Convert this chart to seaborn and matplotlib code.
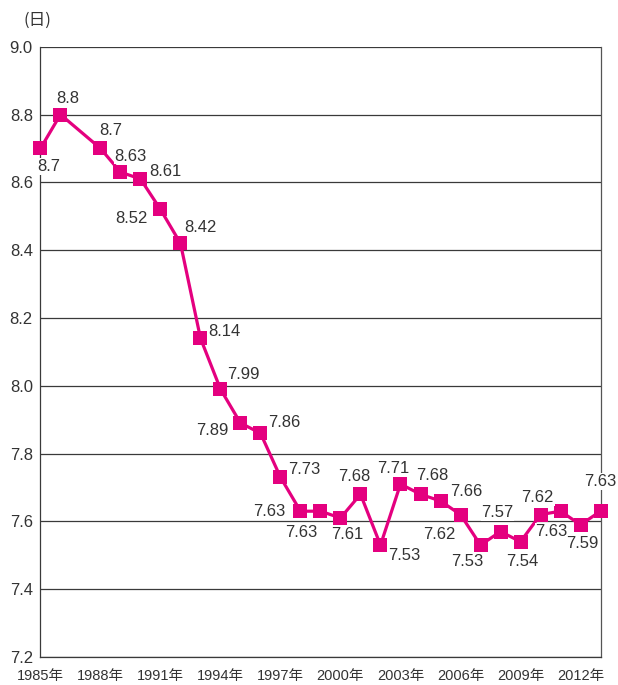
import matplotlib
matplotlib.use("Agg")
import matplotlib.pyplot as plt
import seaborn as sns
import pandas as pd

# Average length of hospital stay by year (1987 not surveyed)
years = [1985, 1986, 1988, 1989, 1990, 1991, 1992, 1993, 1994, 1995,
         1996, 1997, 1998, 1999, 2000, 2001, 2002, 2003, 2004, 2005,
         2006, 2007, 2008, 2009, 2010, 2011, 2012, 2013]
values = [8.70, 8.80, 8.70, 8.63, 8.61, 8.52, 8.42, 8.14, 7.99, 7.89,
          7.86, 7.73, 7.63, 7.63, 7.61, 7.68, 7.53, 7.71, 7.68, 7.66,
          7.62, 7.53, 7.57, 7.54, 7.62, 7.63, 7.59, 7.63]
tick_years = [1985, 1988, 1991, 1994, 1997, 2000, 2003, 2006, 2009, 2012]
tick_labels = [f"{y}年" for y in tick_years]
y_ticks = [7.2, 7.4, 7.6, 7.8, 8.0, 8.2, 8.4, 8.6, 8.8, 9.0]
unit_label = "(日)"

# Placement of each value label relative to its point (pixels, right / down)
label_offsets = [(8, 18), (7, -16.5), (10, -18), (10, -16), (25, -7.5),
                 (-29, 9.5), (19.5, -15.5), (23.5, -7), (22.5, -15),
                 (-28.5, 7), (23.5, -10.5), (23.5, -8), (-31.5, 0),
                 (-19.5, 21.5), (6.5, 17), (-6.5, -17.5), (23.5, 10),
                 (-7, -15.5), (12, -19), (26, -9.5), (-21.5, 19.5),
                 (-13, 16.5), (-3, -19), (2, 20), (-3, -17), (-9, 20.5),
                 (2, 19), (0, -29.5)]

df = pd.DataFrame({"year": years, "value": values})

sns.set_style("white")
plt.rcParams["font.family"] = ["Liberation Sans", "Noto Sans CJK JP", "DejaVu Sans"]

PINK = "#E4007F"
TEXT = "#333333"
GRID = "#3a3a3a"

fig = plt.figure(figsize=(6.18, 6.85), dpi=100)
ax = fig.add_axes([0.0655, 0.0409, 0.9717 - 0.0655, 0.9318 - 0.0409])

sns.lineplot(data=df, x="year", y="value", ax=ax, color=PINK, linewidth=2.3,
             marker="s", markersize=9.5, markeredgewidth=0, markeredgecolor=PINK,
             zorder=4)
for line in ax.lines:
    line.set_clip_on(False)

ax.set_xlim(1985, 2013)
ax.set_ylim(7.2, 9.0)
ax.set_xlabel("")
ax.set_ylabel("")

ax.set_yticks(y_ticks)
ax.set_yticklabels([f"{v:.1f}" for v in y_ticks])
ax.set_xticks(tick_years)
ax.set_xticklabels(tick_labels)

ax.grid(axis="y", color=GRID, linewidth=0.9)
ax.grid(axis="x", visible=False)
ax.set_axisbelow(True)

for side in ["left", "bottom", "right"]:
    ax.spines[side].set_visible(True)
    ax.spines[side].set_color(GRID)
    ax.spines[side].set_linewidth(0.9)
ax.spines["right"].set_color("#555555")
ax.spines["top"].set_visible(False)

ax.tick_params(axis="y", length=0, pad=5.5, labelsize=12, labelcolor=TEXT)
ax.tick_params(axis="x", direction="in", length=5.8, width=0.9, color=GRID,
               pad=9, labelsize=10.5, labelcolor=TEXT)

for yr, v, (dx, dy) in zip(years, values, label_offsets):
    ax.annotate(f"{v:g}", xy=(yr, v), xytext=(dx, -dy),
                textcoords="offset pixels", ha="center", va="center",
                fontsize=12, color=TEXT, zorder=5, annotation_clip=False,
                bbox=dict(boxstyle="square,pad=0.05", fc="white", ec="none"))

fig.text(37 / 618, 1 - 20 / 685, unit_label, ha="center", va="center",
         fontsize=12, color=TEXT,
         family=["Noto Sans CJK JP", "DejaVu Sans"])

fig.savefig("out.png", dpi=100)
